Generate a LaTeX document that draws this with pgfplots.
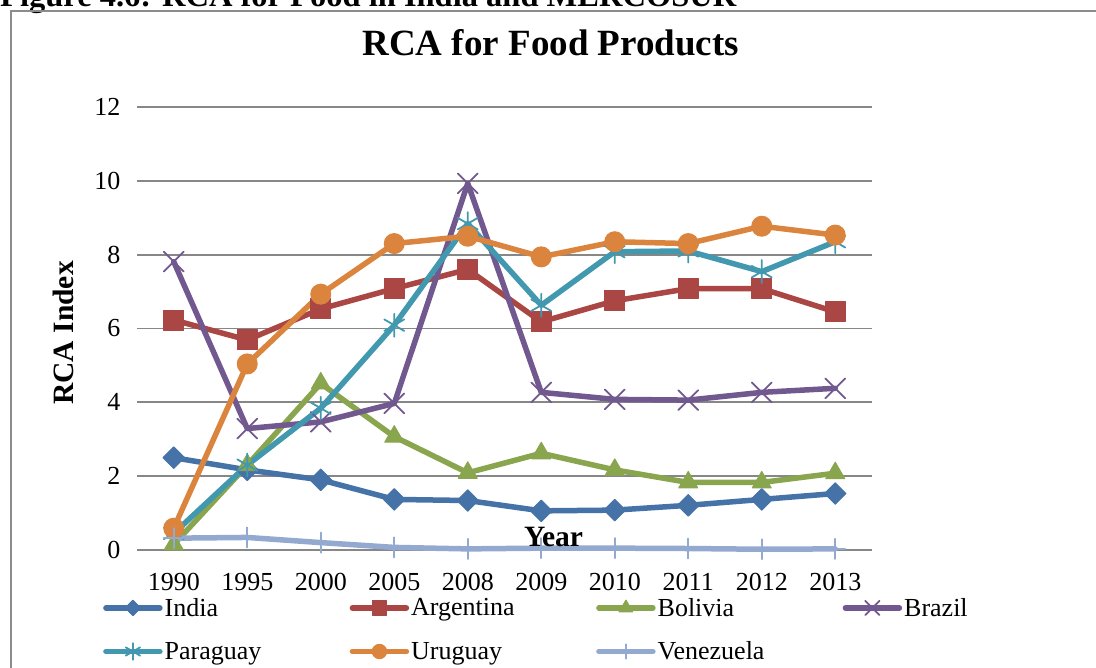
\documentclass[border=0pt]{standalone}
\usepackage{pgfplots}
\usepackage{pgfplotstable}
\pgfplotsset{compat=1.18}
\usepackage{fontspec}
\setmainfont{Liberation Serif}

\definecolor{cIndia}{HTML}{4572A7}
\definecolor{cArg}{HTML}{AA4643}
\definecolor{cBol}{HTML}{89A54E}
\definecolor{cBra}{HTML}{71588F}
\definecolor{cPar}{HTML}{4198AF}
\definecolor{cUru}{HTML}{DB843D}
\definecolor{cVen}{HTML}{93A9CF}
\definecolor{gridgray}{HTML}{878787}
\definecolor{framegray}{HTML}{8C8C8C}

% RCA index by year (x = category position)
\pgfplotstableread{
x India Argentina Bolivia Brazil Paraguay Uruguay Venezuela
0 2.50 6.23 0.15 7.81 0.45 0.59 0.32
1 2.17 5.69 2.30 3.29 2.30 5.04 0.34
2 1.90 6.53 4.51 3.47 3.84 6.93 0.20
3 1.37 7.08 3.07 3.97 6.09 8.30 0.07
4 1.34 7.60 2.09 9.93 8.84 8.50 0.03
5 1.06 6.18 2.62 4.27 6.63 7.94 0.05
6 1.08 6.75 2.17 4.08 8.08 8.35 0.05
7 1.21 7.08 1.83 4.06 8.10 8.30 0.04
8 1.37 7.08 1.83 4.27 7.54 8.77 0.02
9 1.53 6.45 2.08 4.38 8.35 8.53 0.03
}\rcadata

\begin{document}
\begin{tikzpicture}[x=1pt,y=1pt]
\useasboundingbox (0,0) rectangle (1096,668);
% figure caption and frame
\node[anchor=base west, inner sep=0pt, font=\fontsize{32.5}{36}\selectfont\bfseries] at (0,661) {Figure 4.6: RCA for Food in India and MERCOSUR};
\draw[framegray, line width=2pt] (1110,657) -- (11,657) -- (11,-10);

\begin{axis}[
  at={(137pt,118pt)}, anchor=south west,
  scale only axis, width=735pt, height=443pt,
  xmin=-0.5, xmax=9.5, ymin=0, ymax=12,
  xtick={0,...,9},
  xticklabels={1990,1995,2000,2005,2008,2009,2010,2011,2012,2013},
  ytick={0,2,...,12},
  ymajorgrids, major grid style={gridgray, line width=1.8pt},
  axis line style={draw=none},
  major tick length=0pt,
  clip=false,
  /pgf/number format/assume math mode=true,
  ticklabel style={font=\fontsize{26}{30}\selectfont},
  xticklabel style={anchor=base, yshift=-41pt},
  yticklabel style={anchor=east, xshift=-13pt},
  title={RCA for Food Products},
  title style={font=\fontsize{37}{42}\selectfont\bfseries, at={(axis description cs:0.563,1.1016)}, anchor=base},
  xlabel={Year},
  xlabel style={font=\fontsize{29.5}{34}\selectfont\bfseries, at={(axis description cs:0.5667,0.0068)}, anchor=base},
  ylabel={RCA Index},
  ylabel style={font=\fontsize{29.5}{34}\selectfont\bfseries, at={(axis description cs:-0.0995,0.49)}, anchor=center, rotate=0},
  every axis plot/.append style={line width=5.5pt, line join=round, line cap=round},
  legend image code/.code={
    \draw[#1, every mark/.append style={scale=0.72}, mark repeat=2, mark phase=2]
      plot coordinates {(0pt,0pt) (27pt,0pt) (54pt,0pt)};
  },
  legend columns=4,
  legend cell align=left,
  legend style={draw=none, fill=none, inner sep=0pt,
    at={(axis description cs:-0.0463,-0.18)}, anchor=west,
    font=\fontsize{26}{30}\selectfont,
    row sep=20pt,
    nodes={inner sep=2pt}},
]
\addplot[cIndia, mark=square*, mark size=7.6pt, mark options={rotate=45, line width=1pt}] table[x=x, y=India] {\rcadata};
\addlegendentry{\makebox[183pt][l]{India}}
\addplot[cArg, mark=square*, mark size=10pt, mark options={line width=1pt}] table[x=x, y=Argentina] {\rcadata};
\addlegendentry{\makebox[183pt][l]{Argentina}}
\addplot[cBol, mark=triangle*, mark size=11pt, mark options={line width=1pt}] table[x=x, y=Bolivia] {\rcadata};
\addlegendentry{\makebox[183pt][l]{Bolivia}}
\addplot[cBra, mark=x, mark size=14pt, mark options={line width=1.8pt}] table[x=x, y=Brazil] {\rcadata};
\addlegendentry{Brazil}
\addplot[cPar, mark=asterisk, mark size=11.5pt, mark options={line width=1.8pt}] table[x=x, y=Paraguay] {\rcadata};
\addlegendentry{\makebox[183pt][l]{Paraguay}}
\addplot[cUru, mark=*, mark size=10pt, mark options={line width=1pt}] table[x=x, y=Uruguay] {\rcadata};
\addlegendentry{\makebox[183pt][l]{Uruguay}}
\addplot[cVen, mark=+, mark size=10pt, mark options={line width=1.8pt}] table[x=x, y=Venezuela] {\rcadata};
\addlegendentry{\makebox[183pt][l]{Venezuela}}
\end{axis}
\end{tikzpicture}
\end{document}
